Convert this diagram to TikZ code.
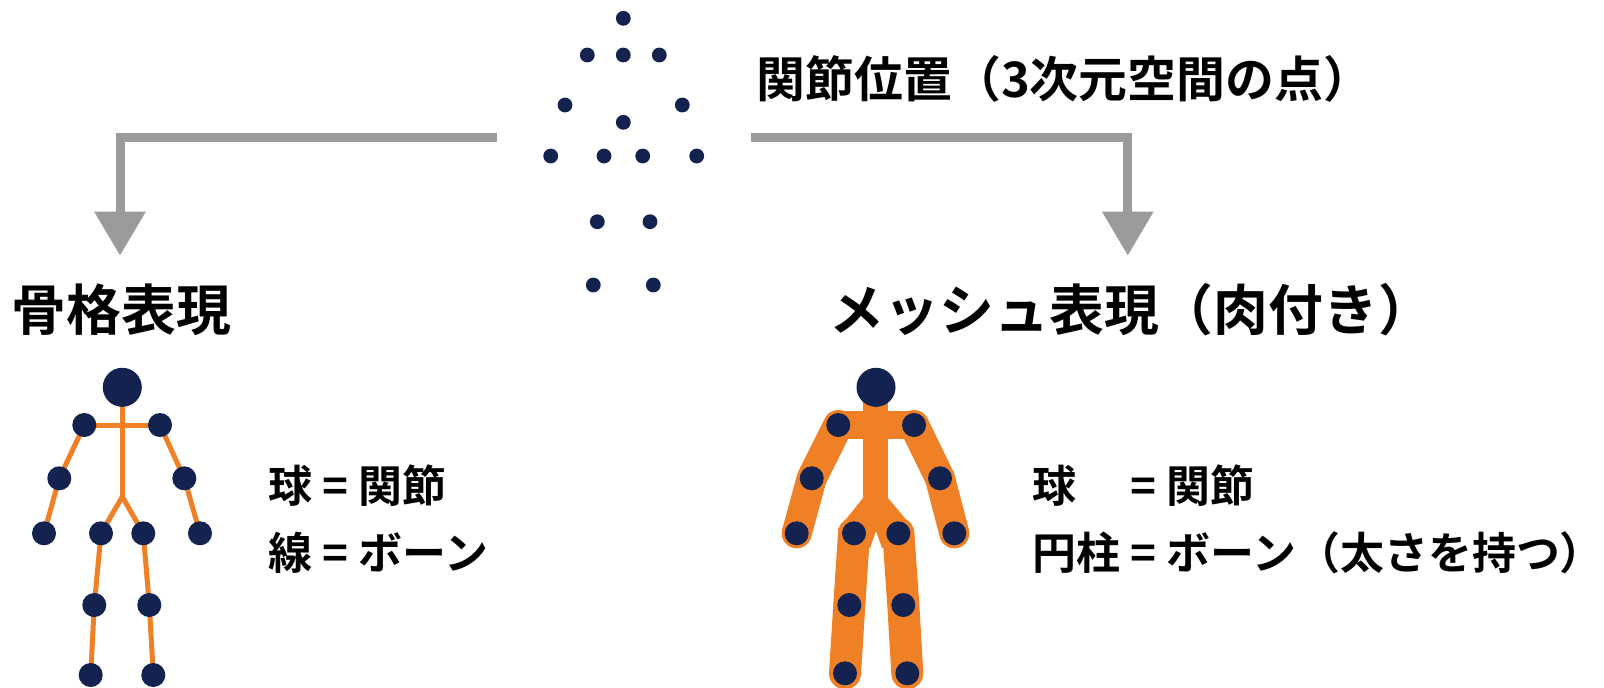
\documentclass[tikz,border=0pt]{standalone}
\usepackage{fontspec}
\setmainfont{Noto Sans CJK JP}[BoldFont={* Bold}]
\usetikzlibrary{arrows.meta,backgrounds}
\definecolor{navy}{HTML}{13224F}
\definecolor{fleshorange}{HTML}{EF8026}
\definecolor{arrowgray}{HTML}{9B9B9B}
\tikzset{
  cloudpt/.style={circle,fill=navy,inner sep=0pt,minimum size=0.148cm},
  joint/.style={circle,fill=navy,inner sep=0pt,minimum size=0.24cm},
  headball/.style={circle,fill=navy,inner sep=0pt,minimum size=0.39cm},
  bone/.style={draw=fleshorange,line width=0.05cm},
  limb/.style={draw=fleshorange,line width=#1,line cap=round,line join=round},
  flow/.style={draw=arrowgray,line width=0.09cm,-{Triangle[width=0.49cm,length=0.44cm]}},
  heading/.style={anchor=base west,inner sep=0pt,font=\bfseries\fontsize{15.6pt}{18pt}\selectfont},
  label/.style={anchor=base west,inner sep=0pt,font=\bfseries\fontsize{12.5pt}{15pt}\selectfont},
}
\begin{document}
\begin{tikzpicture}[x=0.01cm,y=-0.01cm]
\useasboundingbox (0,0) rectangle (1604,687);

% joint positions as a point cloud
\node[cloudpt] (p1)  at (623.3,18.3) {};
\node[cloudpt] (p2)  at (587.3,55) {};
\node[cloudpt] (p3)  at (623.3,55) {};
\node[cloudpt] (p4)  at (659.3,55) {};
\node[cloudpt] (p5)  at (565,105) {};
\node[cloudpt] (p6)  at (682.3,105) {};
\node[cloudpt] (p7)  at (623.3,122.3) {};
\node[cloudpt] (p8)  at (550.7,156) {};
\node[cloudpt] (p9)  at (604,156) {};
\node[cloudpt] (p10) at (642.7,156) {};
\node[cloudpt] (p11) at (696.7,156) {};
\node[cloudpt] (p12) at (597.3,221.7) {};
\node[cloudpt] (p13) at (650,221.7) {};
\node[cloudpt] (p14) at (593.3,285) {};
\node[cloudpt] (p15) at (653.3,285) {};

\node[anchor=base west,inner sep=0pt] (ttl) at (756,97)
  {\bfseries\fontsize{13.9pt}{16pt}\selectfont 関節位置（3次元空間の点）};

% branching arrows
\coordinate (aL0) at (496.7,137);
\coordinate (aL1) at (120,137);
\coordinate (aL2) at (120,255.7);
\coordinate (aR0) at (750.7,137);
\coordinate (aR1) at (1127.8,137);
\coordinate (aR2) at (1127.8,255.7);
\draw[flow] (aL0) -- (aL1) -- (aL2);
\draw[flow] (aR0) -- (aR1) -- (aR2);

\node[heading] (hSkel) at (11,330) {骨格表現};
\node[heading] (hMesh) at (829,330) {メッシュ表現（肉付き）};

% skeleton figure
\node[headball] (sH)  at (122.3,387.3) {};
\node[joint] (sLS) at (84.3,425) {};
\node[joint] (sRS) at (160,425) {};
\node[joint] (sLE) at (59.3,478.3) {};
\node[joint] (sRE) at (184.3,478.3) {};
\node[joint] (sLW) at (44,533.3) {};
\node[joint] (sRW) at (200,533.3) {};
\node[joint] (sLH) at (101,533.3) {};
\node[joint] (sRH) at (143.3,533.3) {};
\node[joint] (sLK) at (94.3,605) {};
\node[joint] (sRK) at (149.3,605) {};
\node[joint] (sLA) at (90.7,675) {};
\node[joint] (sRA) at (153.3,675) {};
\coordinate (sPel) at (122.3,496.7);
\begin{scope}[on background layer]
  \draw[bone] (sH.center) -- (sPel);
  \draw[bone] (sLS.center) -- (sRS.center);
  \draw[bone] (sLS.center) -- (sLE.center) -- (sLW.center);
  \draw[bone] (sRS.center) -- (sRE.center) -- (sRW.center);
  \draw[bone] (sLH.center) -- (sPel) -- (sRH.center);
  \draw[bone] (sLH.center) -- (sLK.center) -- (sLA.center);
  \draw[bone] (sRH.center) -- (sRK.center) -- (sRA.center);
\end{scope}

\node[label] (lS1) at (268,502) {球 = 関節};
\node[label] (lS2) at (268,569) {線 = ボーン};

% mesh figure
\node[headball] (mH)  at (876,387.3) {};
\node[joint] (mLS) at (838.3,425) {};
\node[joint] (mRS) at (914,425) {};
\node[joint] (mLE) at (811.7,478.3) {};
\node[joint] (mRE) at (940,478.3) {};
\node[joint] (mLW) at (796.7,533.3) {};
\node[joint] (mRW) at (954.3,533.3) {};
\node[joint] (mLH) at (854,533.3) {};
\node[joint] (mRH) at (898.3,533.3) {};
\node[joint] (mLK) at (849.3,605) {};
\node[joint] (mRK) at (903.3,605) {};
\node[joint] (mLA) at (845,673.3) {};
\node[joint] (mRA) at (907.3,673.3) {};
\coordinate (mNeck) at (875.5,402);
\coordinate (mWaist) at (875.5,500);
\begin{scope}[on background layer]
  \draw[draw=fleshorange,line width=0.25cm] (mNeck) -- (mWaist);
  \fill[fleshorange] (863,498) -- (888,498) -- (914,529) -- (914,548) -- (882,548)
    -- (876,531) -- (870,548) -- (838,548) -- (838,529) -- cycle;
  \draw[limb=0.28cm] (mLS.center) -- (mRS.center);
  \draw[limb=0.30cm] (mLS.center) -- (mLE.center) -- (mLW.center);
  \draw[limb=0.30cm] (mRS.center) -- (mRE.center) -- (mRW.center);
  \draw[limb=0.32cm] (mLH.center) -- (mLK.center) -- (mLA.center);
  \draw[limb=0.32cm] (mRH.center) -- (mRK.center) -- (mRA.center);
\end{scope}

\node[label] (lM1) at (1032,502) {\rlap{球}\phantom{円柱} = 関節};
\node[label] (lM2) at (1032,569) {円柱 = ボーン（太さを持つ）};
\end{tikzpicture}
\end{document}
